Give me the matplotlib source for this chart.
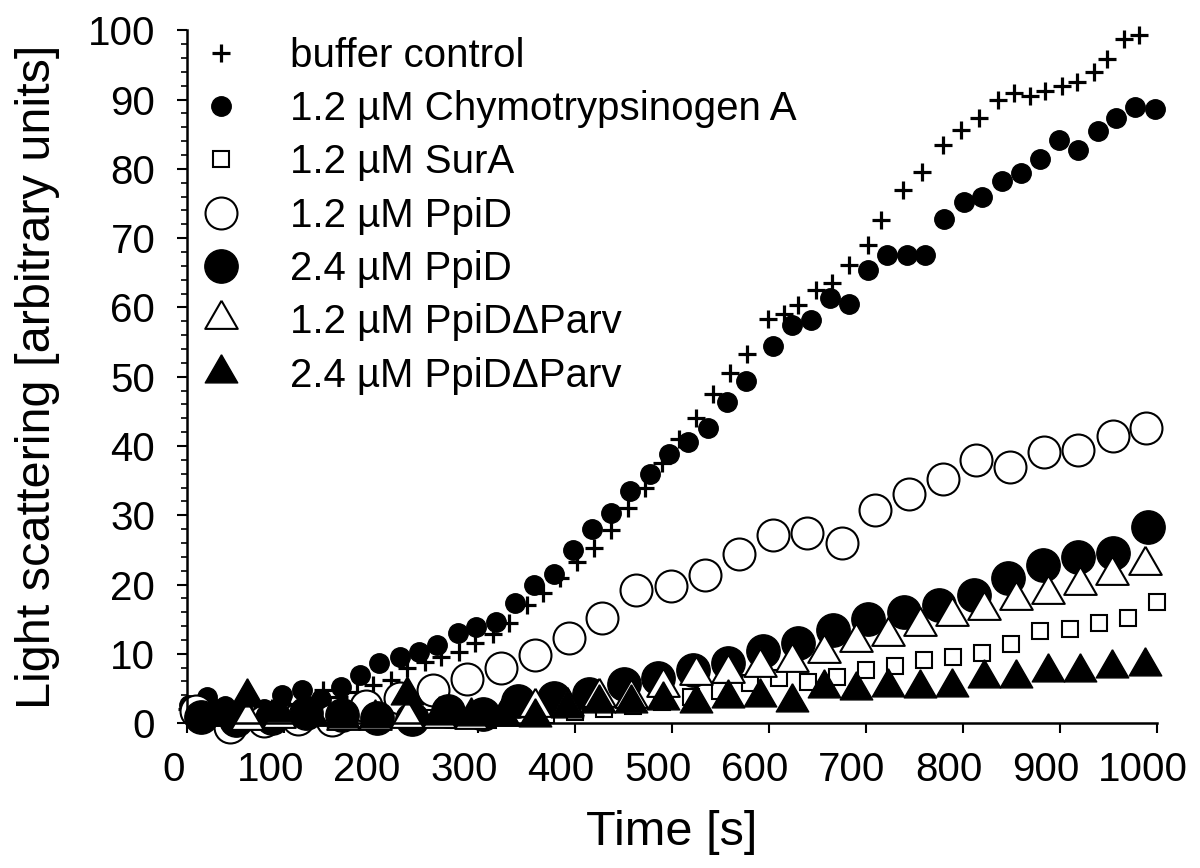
import numpy as np
import matplotlib.pyplot as plt
from matplotlib.ticker import MultipleLocator
from matplotlib.transforms import ScaledTranslation

plt.rcParams['font.family'] = ['Liberation Sans', 'DejaVu Sans']

# buffer control (+)
buffer_t = [0, 17, 35, 52, 70, 87, 105, 122, 140, 157, 175, 192, 210, 227, 245,
            262, 280, 297, 315, 332, 350, 367, 385, 402, 420, 437, 455, 472, 490,
            507, 525, 542, 560, 577, 599, 615, 630, 649, 665, 683, 702, 716, 738,
            758, 779, 798, 817, 836, 853, 869, 885, 902, 918, 935, 949, 966, 982]
buffer_y = [2.0, 2.5, 1.8, 1.5, 1.8, 2.2, 2.8, 3.0, 4.8, 3.8, 4.5, 5.5, 6.2, 8.0, 8.8,
            9.5, 10.3, 11.5, 12.8, 14.5, 17.0, 18.8, 21.0, 23.3, 25.3, 27.8, 31.0, 34.0, 37.5,
            41.0, 44.0, 47.5, 50.5, 53.3, 58.4, 59.0, 60.3, 62.5, 63.6, 66.1, 69.0, 72.6, 76.9,
            79.5, 83.4, 85.6, 87.3, 89.9, 91.0, 90.5, 91.3, 92.0, 92.5, 94.0, 95.8, 98.8, 99.3]

# 1.2 uM Chymotrypsinogen A (small filled circles)
chymo_t = [2, 20, 39, 59, 79, 98, 118, 138, 159, 178, 198, 219, 239, 258, 279, 298,
           318, 338, 358, 378, 398, 418, 437, 457, 477, 497, 517, 537, 557, 576, 604,
           624, 643, 663, 683, 702, 722, 742, 761, 781, 801, 820, 840, 860, 880, 899,
           919, 939, 958, 978, 998]
chymo_y = [2.6, 3.7, 2.5, 1.5, 2.0, 4.0, 4.7, 3.5, 5.2, 7.0, 8.6, 9.5, 10.3, 11.3, 13.0, 13.8,
           14.6, 17.3, 20.0, 21.5, 25.0, 28.0, 30.3, 33.5, 36.0, 38.8, 40.6, 42.6, 46.4, 49.4, 54.4,
           57.4, 58.2, 61.3, 60.5, 65.4, 67.5, 67.5, 67.6, 72.8, 75.2, 75.9, 78.3, 79.4, 81.5, 84.2,
           82.7, 85.5, 87.3, 89.0, 88.6]

# 1.2 uM SurA (open squares)
sura_t = [10, 40, 70, 100, 130, 160, 190, 220, 250, 280, 310, 340, 370, 400, 430, 460, 490,
          520, 550, 580, 610, 640, 670, 700, 730, 760, 790, 820, 850, 880, 910, 940, 970, 1000]
sura_y = [0.8, 0.5, 0.6, 0.4, 0.7, 0.5, 0.8, 0.6, 0.7, 0.5, 0.5, 1.0, 1.2, 1.6, 2.0, 2.5, 3.0,
          3.8, 4.6, 5.8, 6.5, 5.9, 6.6, 7.6, 8.3, 9.1, 9.5, 10.1, 11.4, 13.3, 13.6, 14.4, 15.2, 17.5]

# 1.2 uM PpiD (large open circles)
ppid12_t = [9, 44, 79, 114, 149, 184, 219, 254, 289, 324, 359, 394, 428, 463, 499, 534, 569,
            604, 639, 675, 709, 744, 779, 814, 849, 884, 919, 955, 989]
ppid12_y = [1.8, -0.5, 0.3, 0.6, 0.5, 2.5, 3.6, 4.8, 6.3, 8.0, 9.8, 12.3, 15.2, 19.2, 19.8, 21.4,
            24.4, 27.1, 27.4, 26.0, 30.7, 33.0, 35.3, 38.0, 36.9, 39.1, 39.4, 41.5, 42.6]

# 2.4 uM PpiD (large filled circles)
ppid24_t = [14, 50, 87, 123, 160, 196, 232, 269, 305, 341, 378, 414, 450, 486, 522, 558, 594,
            630, 666, 702, 739, 775, 811, 847, 883, 919, 955, 991]
ppid24_y = [0.9, 0.5, 0.8, 1.4, 1.2, 0.8, 0.6, 1.8, 1.3, 3.2, 3.6, 4.2, 5.6, 6.5, 7.6, 8.6, 10.4,
            11.6, 13.4, 15.0, 16.1, 17.0, 18.5, 20.9, 22.8, 24.0, 24.5, 28.3]

# PpiDdeltaParv, 1.2 uM (open triangles) and 2.4 uM (filled triangles)
parv_t = [29, 62, 95, 128, 161, 194, 227, 260, 293, 326, 359, 392, 425, 458, 491, 525, 558,
          591, 624, 657, 690, 723, 756, 789, 822, 855, 888, 921, 954, 988]
parv12_y = [1.0, 0.5, 0.8, 1.0, 0.5, 0.5, 0.7, 0.8, 0.6, 1.0, 2.3, 2.5, 3.8, 3.6, 5.2, 6.9, 7.2,
            8.1, 8.8, 10.1, 11.7, 12.5, 14.0, 15.5, 16.3, 17.7, 18.7, 19.9, 21.4, 22.8]
parv24_y = [1.0, 3.8, 1.6, 1.2, 0.8, 0.8, 4.0, 1.2, 1.0, 1.0, 0.9, 2.2, 2.9, 2.9, 3.3, 2.9, 3.6,
            3.8, 3.0, 5.1, 4.8, 5.2, 5.0, 5.2, 6.5, 6.5, 7.4, 7.4, 7.9, 8.3]

labels = ['buffer control', '1.2 µM Chymotrypsinogen A', '1.2 µM SurA', '1.2 µM PpiD',
          '2.4 µM PpiD', '1.2 µM PpiDΔParv', '2.4 µM PpiDΔParv']

# equilateral triangle marker
tri = [(0, 0.577), (-0.5, -0.289), (0.5, -0.289), (0, 0.577)]

fig = plt.figure(figsize=(12, 8.68), dpi=100)
ax = fig.add_axes([0.156, 0.167, 0.808, 0.798])

kw = dict(linestyle='none', clip_on=False)
ax.plot(buffer_t, buffer_y, marker='+', ms=13, mew=2.3, color='black', label=labels[0], **kw)
ax.plot(chymo_t, chymo_y, marker='o', ms=14, color='black', label=labels[1], **kw)
ax.plot(sura_t, sura_y, marker='s', ms=12, mfc='white', mec='black', mew=1.5,
        label=labels[2], **kw)
ax.plot(ppid12_t, ppid12_y, marker='o', ms=23, mfc='white', mec='black', mew=1.5,
        label=labels[3], **kw)
ax.plot(ppid24_t, ppid24_y, marker='o', ms=24, color='black', label=labels[4], **kw)
ax.plot(parv_t, parv12_y, marker=tri, ms=27, mfc='white', mec='black', mew=1.5,
        label=labels[5], **kw)
ax.plot(parv_t, parv24_y, marker=tri, ms=27, color='black', label=labels[6], **kw)

ax.set_xlim(0, 1000)
ax.set_ylim(0, 100)
ax.xaxis.set_major_locator(MultipleLocator(100))
ax.yaxis.set_major_locator(MultipleLocator(10))
ax.yaxis.set_minor_locator(MultipleLocator(2))
for s in ['top', 'right']:
    ax.spines[s].set_visible(False)
for s in ['left', 'bottom']:
    ax.spines[s].set_linewidth(1.8)
ax.tick_params(which='major', direction='out', length=7, width=1.5, labelsize=29)
ax.tick_params(axis='x', which='major', pad=13)
ax.tick_params(axis='y', which='major', pad=16)
ax.tick_params(which='minor', direction='out', length=4, width=1.2)

# x tick labels sit a little left of their ticks in the original
shift = ScaledTranslation(-14 / 100, 0, fig.dpi_scale_trans)
for lab in ax.get_xticklabels():
    lab.set_transform(lab.get_transform() + shift)

ax.set_xlabel('Time [s]', fontsize=35, labelpad=15)
ax.set_ylabel('Light scattering [arbitrary units]', fontsize=35, labelpad=20)

ax.legend(loc='upper left', bbox_to_anchor=(-0.023, 1.014), frameon=False, fontsize=29,
          numpoints=1, labelspacing=0.38, handlelength=2.0, handletextpad=0.7,
          borderaxespad=0)

fig.savefig('out.png', dpi=100)
